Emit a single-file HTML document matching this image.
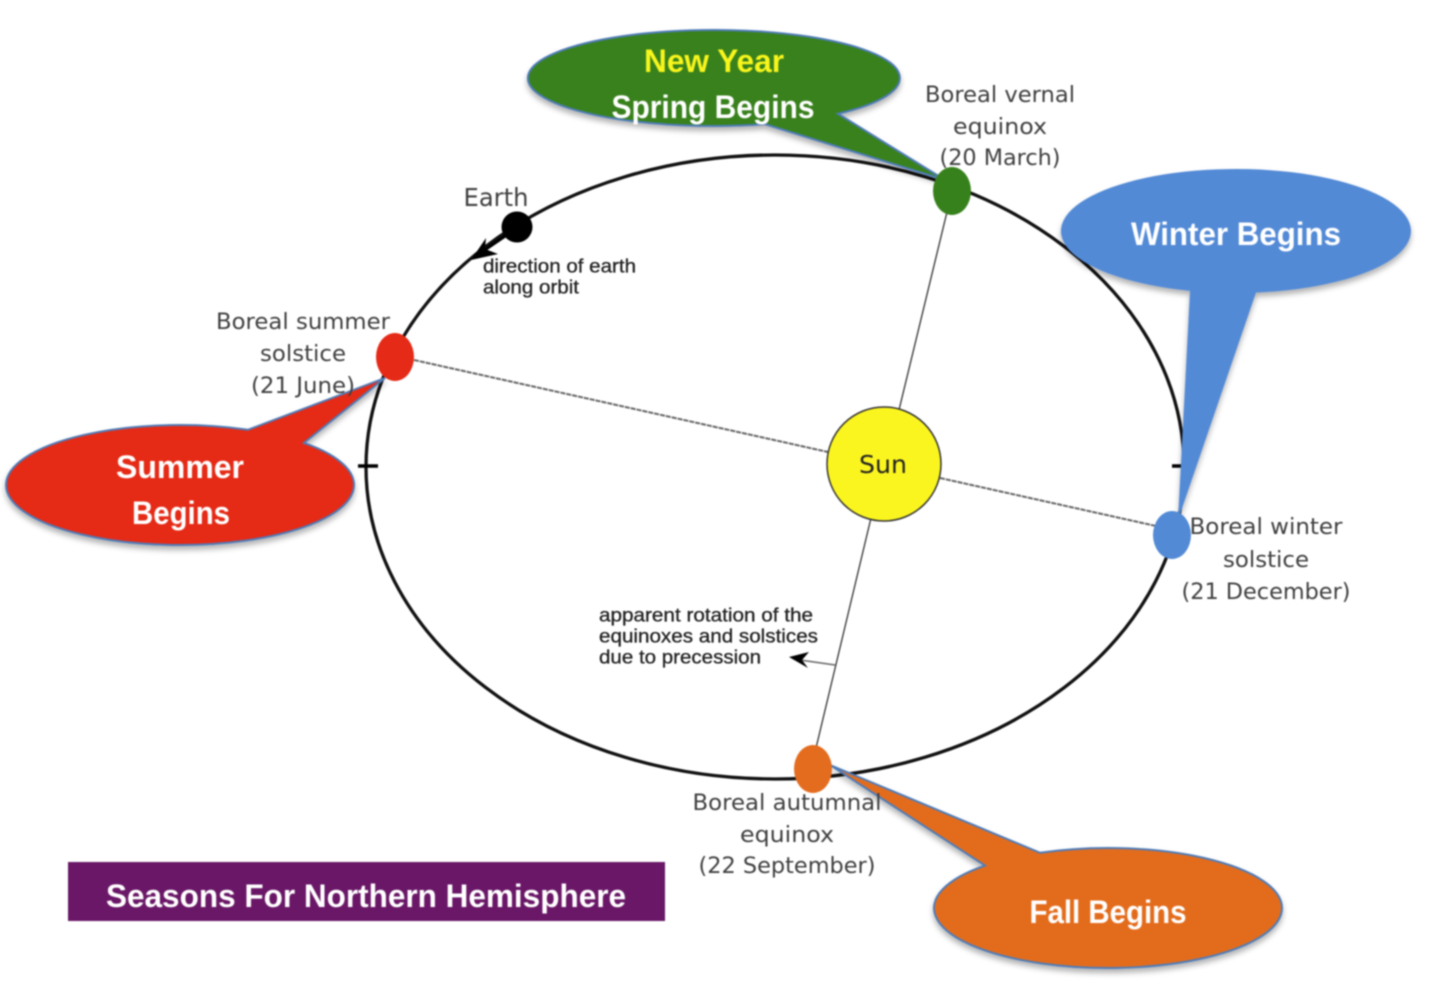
<!DOCTYPE html>
<html>
<head>
<meta charset="utf-8">
<style>
html,body{margin:0;padding:0;background:#fff;width:1430px;height:993px;overflow:hidden}
svg{display:block;filter:blur(0.7px)}
text{font-family:"Liberation Sans",sans-serif}
.c{font-family:"DejaVu Sans","Liberation Sans",sans-serif;font-size:22px;fill:#404040;text-anchor:middle}
.b{font-family:"Liberation Sans",sans-serif;font-size:32px;font-weight:700;fill:#fff;text-anchor:middle}
.s{font-family:"Liberation Sans",sans-serif;font-size:19px;fill:#222;stroke:#222;stroke-width:0.3px}
</style>
</head>
<body>
<svg width="1430" height="993" viewBox="0 0 1430 993" xmlns="http://www.w3.org/2000/svg">
<defs>
<filter id="sh" x="-10%" y="-10%" width="120%" height="125%">
<feDropShadow dx="0" dy="4" stdDeviation="3" flood-color="#000" flood-opacity="0.3"/>
</filter>
</defs>

<!-- orbit -->
<ellipse cx="775" cy="467" rx="409" ry="312" fill="none" stroke="#111" stroke-width="3.3"/>
<line x1="358" y1="466" x2="378" y2="466" stroke="#000" stroke-width="3.5"/>
<line x1="1172" y1="466" x2="1186" y2="466" stroke="#000" stroke-width="3.5"/>

<!-- axes -->
<line x1="414" y1="360" x2="828" y2="452" stroke="#666" stroke-width="2" stroke-dasharray="5 1"/>
<line x1="940" y1="478" x2="1156" y2="526" stroke="#666" stroke-width="2" stroke-dasharray="5 1"/>
<line x1="947" y1="212" x2="899" y2="410" stroke="#333" stroke-width="1.3"/>
<line x1="871" y1="518" x2="816" y2="748" stroke="#333" stroke-width="1.3"/>

<!-- arrow for precession -->
<line x1="835" y1="665" x2="800" y2="660" stroke="#666" stroke-width="1.5"/>
<polygon points="789,657 809,652 802,660 808,668" fill="#000"/>

<!-- earth -->
<circle cx="517" cy="227" r="15.5" fill="#000"/>
<line x1="505" y1="236" x2="480" y2="253" stroke="#000" stroke-width="3.3"/>
<polygon points="471,260 486,238 485,249 498,254" fill="#000"/>

<!-- sun -->
<circle cx="884" cy="464" r="57" fill="#fbf51f" stroke="#333" stroke-width="1.5"/>
<text x="883" y="473" style="font-family:'DejaVu Sans',sans-serif;font-size:25px" fill="#222" text-anchor="middle" textLength="48" lengthAdjust="spacingAndGlyphs">Sun</text>

<!-- callouts -->
<path d="M765 124.16 A186 48 0 1 1 838 113.76 L945 180 Z" fill="#37811c" stroke="#4f7cb8" stroke-width="2" filter="url(#sh)"/>
<path d="M1190 290.82 A175 62 0 1 1 1256 292.59 L1178 520 Z" fill="#528ad6" filter="url(#sh)"/>
<path d="M304 442.9 A174 60 0 1 1 248 429.77 L385 378 Z" fill="#e52a17" stroke="#4f7cb8" stroke-width="2" filter="url(#sh)"/>
<path d="M985 865.56 L830 765 L1040 852.77 A174 60 0 1 1 985 865.56 Z" fill="#e36c1f" stroke="#4f7cb8" stroke-width="2" filter="url(#sh)"/>

<!-- nodes -->
<ellipse cx="952" cy="191" rx="19" ry="24" fill="#37811c"/>
<ellipse cx="395" cy="357" rx="19" ry="24" fill="#e52a17"/>
<ellipse cx="1172" cy="535" rx="19" ry="24" fill="#528ad6"/>
<ellipse cx="813" cy="769" rx="19" ry="24" fill="#e36c1f"/>

<!-- callout labels -->
<text x="714" y="72" class="b" style="fill:#f8f51c" textLength="140" lengthAdjust="spacingAndGlyphs">New Year</text>
<text x="713" y="118" class="b" textLength="203" lengthAdjust="spacingAndGlyphs">Spring Begins</text>
<text x="1236" y="245" class="b" textLength="210" lengthAdjust="spacingAndGlyphs">Winter Begins</text>
<text x="180" y="478" class="b" textLength="128" lengthAdjust="spacingAndGlyphs">Summer</text>
<text x="181" y="524" class="b" textLength="98" lengthAdjust="spacingAndGlyphs">Begins</text>
<text x="1108" y="923" class="b" textLength="157" lengthAdjust="spacingAndGlyphs">Fall Begins</text>

<!-- captions -->
<text x="1000" y="102" class="c" textLength="150" lengthAdjust="spacingAndGlyphs">Boreal vernal</text>
<text x="1000" y="134" class="c" textLength="94" lengthAdjust="spacingAndGlyphs">equinox</text>
<text x="1000" y="165" class="c" textLength="121" lengthAdjust="spacingAndGlyphs">(20 March)</text>
<text x="496" y="206" class="c" style="font-size:25px" textLength="65" lengthAdjust="spacingAndGlyphs">Earth</text>
<text x="303" y="329" class="c" textLength="174" lengthAdjust="spacingAndGlyphs">Boreal summer</text>
<text x="303" y="361" class="c" textLength="86" lengthAdjust="spacingAndGlyphs">solstice</text>
<text x="303" y="393" class="c" textLength="104" lengthAdjust="spacingAndGlyphs">(21 June)</text>
<text x="1266" y="534" class="c" textLength="153" lengthAdjust="spacingAndGlyphs">Boreal winter</text>
<text x="1266" y="567" class="c" textLength="86" lengthAdjust="spacingAndGlyphs">solstice</text>
<text x="1266" y="599" class="c" textLength="169" lengthAdjust="spacingAndGlyphs">(21 December)</text>
<text x="787" y="810" class="c" textLength="189" lengthAdjust="spacingAndGlyphs">Boreal autumnal</text>
<text x="787" y="842" class="c" textLength="94" lengthAdjust="spacingAndGlyphs">equinox</text>
<text x="787" y="873" class="c" textLength="177" lengthAdjust="spacingAndGlyphs">(22 September)</text>

<text x="483" y="272.6" class="s" textLength="153" lengthAdjust="spacingAndGlyphs">direction of earth</text>
<text x="483" y="293.6" class="s" textLength="96" lengthAdjust="spacingAndGlyphs">along orbit</text>
<text x="599" y="621.4" class="s" textLength="214" lengthAdjust="spacingAndGlyphs">apparent rotation of the</text>
<text x="599" y="642.4" class="s" textLength="219" lengthAdjust="spacingAndGlyphs">equinoxes and solstices</text>
<text x="599" y="663.4" class="s" textLength="162" lengthAdjust="spacingAndGlyphs">due to precession</text>

<!-- title -->
<rect x="68" y="862" width="597" height="59" fill="#6a1767"/>
<text x="366" y="907" class="b" textLength="520" lengthAdjust="spacingAndGlyphs">Seasons For Northern Hemisphere</text>
</svg>
</body>
</html>
